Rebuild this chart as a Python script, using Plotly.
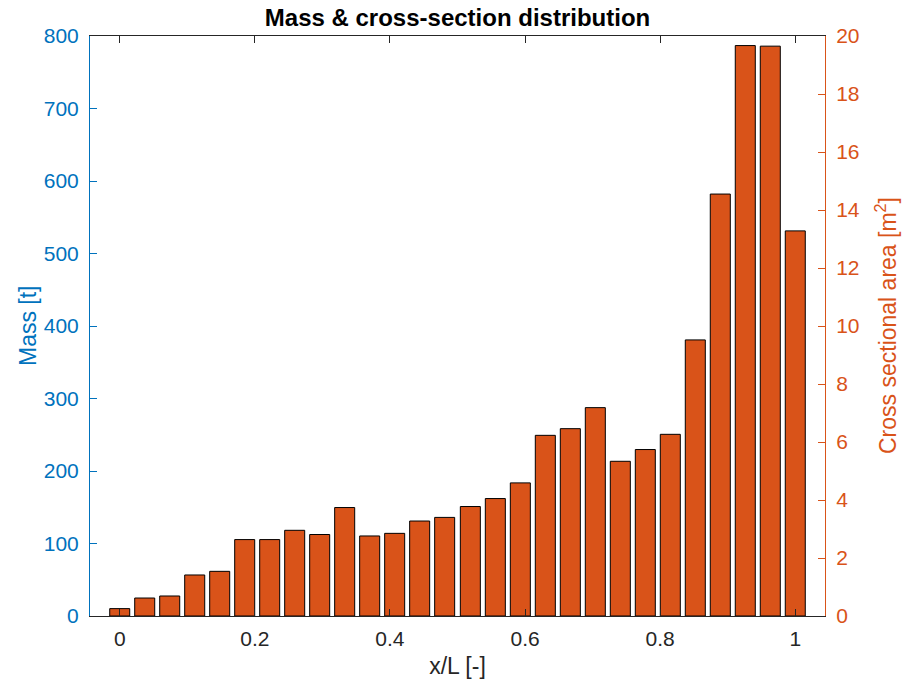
import plotly.graph_objects as go

# station positions x/L
x_stations = [0.000, 0.037, 0.074, 0.111, 0.148, 0.185, 0.222, 0.259, 0.296, 0.333,
              0.370, 0.407, 0.444, 0.481, 0.519, 0.556, 0.593, 0.630, 0.667, 0.704,
              0.741, 0.778, 0.815, 0.852, 0.889, 0.926, 0.963, 1.000]
# cross sectional area [m^2]
area = [0.255, 0.62, 0.69, 1.415, 1.54, 2.635, 2.635, 2.955, 2.81, 3.74,
        2.76, 2.85, 3.275, 3.4, 3.775, 4.05, 4.59, 6.23, 6.46, 7.185,
        5.335, 5.74, 6.265, 9.52, 14.55, 19.67, 19.65, 13.28]

mass_ticks = [0, 100, 200, 300, 400, 500, 600, 700, 800]
area_ticks = [0, 2, 4, 6, 8, 10, 12, 14, 16, 18, 20]
x_ticks = [0, 0.2, 0.4, 0.6, 0.8, 1]

BLUE = "#0072BD"
ORANGE = "#D95319"
DARK = "#262626"
FONT = "Liberation Sans, Arial, sans-serif"

ML, MR, MT, MB = 90, 77, 36, 75
PW = 902 - ML - MR

fig = go.Figure()
fig.add_trace(go.Bar(
    x=x_stations, y=area, yaxis="y2",
    width=0.8 / 27,
    marker=dict(color=ORANGE, line=dict(color="black", width=1)),
    showlegend=False,
))
# invisible trace to activate left axis
fig.add_trace(go.Scatter(x=[0.5], y=[0], yaxis="y", mode="lines",
                         line=dict(width=0), showlegend=False, hoverinfo="skip"))

fig.update_layout(
    width=902, height=691,
    margin=dict(l=ML, r=MR, t=MT, b=MB),
    paper_bgcolor="white", plot_bgcolor="white",
    font=dict(family=FONT, size=21, color=DARK),
    title=dict(text="<b>Mass & cross-section distribution</b>", x=0.5, xref="paper",
               xanchor="center", y=0.975, yanchor="middle",
               font=dict(size=24, color="black")),
    xaxis=dict(range=[-0.044, 1.044], tickvals=x_ticks,
               ticktext=["0", "0.2", "0.4", "0.6", "0.8", "1"],
               showgrid=False, zeroline=False, showline=True, linecolor=DARK, linewidth=1,
               mirror="ticks", ticks="inside", ticklen=7, tickcolor=DARK,
               tickfont=dict(size=21, color=DARK), ticklabelstandoff=4,
               title=dict(text="x/L [-]", font=dict(size=23, color=DARK), standoff=8)),
    yaxis=dict(range=[0, 800], tickvals=mass_ticks, showgrid=False, zeroline=False,
               showline=True, linecolor=BLUE, linewidth=1, ticks="inside", ticklen=7,
               tickcolor=BLUE, tickfont=dict(size=21, color=BLUE), ticklabelstandoff=6),
    yaxis2=dict(range=[0, 20], tickvals=area_ticks, overlaying="y", side="right",
                showgrid=False, zeroline=False, showline=True, linecolor=ORANGE, linewidth=1,
                ticks="inside", ticklen=7, tickcolor=ORANGE,
                tickfont=dict(size=21, color=ORANGE), ticklabelstandoff=6),
    annotations=[
        dict(text="Mass [t]", textangle=-90, xref="paper", yref="paper",
             x=(28 - ML) / PW, y=0.5, xanchor="center", yanchor="middle",
             showarrow=False, font=dict(size=23, color=BLUE)),
        dict(text="Cross sectional area [m<sup>2</sup>]", textangle=-90,
             xref="paper", yref="paper",
             x=(886 - ML) / PW, y=0.5, xanchor="center", yanchor="middle",
             showarrow=False, font=dict(size=23, color=ORANGE)),
    ],
)
fig.write_html("out.html")
